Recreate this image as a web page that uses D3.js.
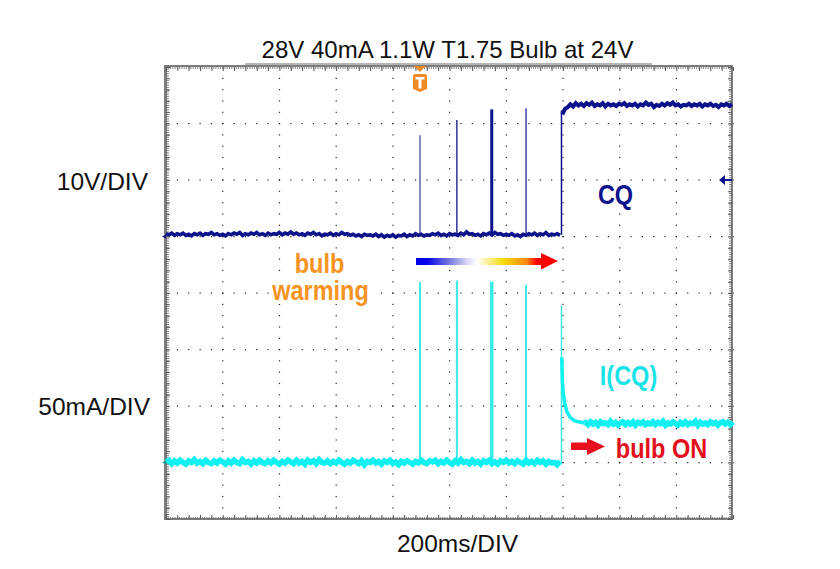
<!DOCTYPE html>
<html>
<head>
<meta charset="utf-8">
<script src="https://cdn.jsdelivr.net/npm/d3@7"></script>
<style>
  html, body { margin: 0; padding: 0; background: #fff; }
  svg { display: block; }
  text { font-family: "Liberation Sans", Arial, sans-serif; }
  .note { font-weight: bold; }
</style>
</head>
<body>
<svg id="chart" width="840" height="569"></svg>
<script>
const width = 840;
const height = 569;

// scope settings
const xDivs = 10;
const yDivs = 8;
const msPerDiv = 200;
const voltsPerDiv = 10;
const mAPerDiv = 50;
const subDivs = 5;

// labels
const titleText = '28V 40mA 1.1W T1.75 Bulb at 24V';
const voltLabel = '10V/DIV';
const currentLabel = '50mA/DIV';
const timeLabel = '200ms/DIV';

// CQ voltage (ms, V)
const sampleMs = 10;
const cqLow = [0.5,0.3,0.6,0.2,0.5,0.3,0.6,0.2,0.4,0.1,0.5,0.3,0.6,0.2,0.5,0.4,0.7,0.3,0.5,0.2,
  0.4,0.1,0.5,0.3,0.6,0.4,0.7,0.2,0.5,0.3,0.6,0.4,0.7,0.3,0.5,0.2,0.6,0.3,0.5,0.4,
  0.7,0.3,0.6,0.4,0.8,0.4,0.6,0.3,0.5,0.2,0.6,0.4,0.7,0.3,0.5,0.1,0.4,0.3,0.6,0.2,
  0.5,0.3,0.7,0.4,0.5,0.2,0.4,0.1,0.3,0.0,0.4,0.2,0.3,0.1,0.4,0.0,0.3,-0.1,0.2,0.0,
  0.3,-0.1,0.2,0.1,0.4,0.0,0.3,0.1,0.5,0.2,0.4,0.1,0.3,0.2,0.5,0.3,0.6,0.2,0.4,0.1,
  0.5,0.3,0.4,0.2,0.6,0.3,0.8,0.4,0.5,0.2,0.4,0.1,0.5,0.3,0.6,0.3,0.7,0.4,0.5,0.2,
  0.4,0.2,0.5,0.1,0.3,0.0,0.4,0.2,0.5,0.3,0.6,0.2,0.5,0.3,0.7,0.2,0.4,0.3,0.5,0.2];
const cqHigh = [21.6,22.6,22.9,23.4,23.0,23.6,23.2,23.5,23.1,23.6,23.3,23.7,23.1,23.4,23.2,23.6,23.0,23.5,
  23.2,23.4,23.1,23.5,23.3,23.6,23.1,23.4,23.2,23.5,23.0,23.4,23.2,23.7,23.3,23.5,22.9,23.3,
  23.1,23.5,23.2,23.6,23.3,23.7,23.2,23.4,23.0,23.3,23.2,23.5,23.1,23.4,23.2,23.5,23.0,23.4,
  23.2,23.5,23.1,23.3,22.9,23.4,23.2,23.5,23.1,23.4];
const cqStepMs = 1395;
const cqHighStartMs = 1398;
const cqHighStepMs = 9.5;

// spikes while the bulb warms up (ms, top value, px of trace weight)
const spikeMs = [896, 1026, 1149, 1270];
const cqSpikeV = [17.9, 20.6, 22.5, 22.7];
const iSpikeMA = [160, 161, 160, 157];
const spikeWeight = [1.5, 1.5, 3, 1.5];
const cqSpikeColor = ['#5d61ab', '#2a2f96', '#0b128a', '#3c41a0'];

// I(CQ) current (ms, mA)
const iLow = [0.5,2,-1,1.5,-0.5,2,0,-1.5,1.5,0,2.5,-0.5,1,-1,2,0,-1,1.5,-0.5,2,
  0.5,-1.5,1.5,-0.5,2,0,-1,2.5,0,1,-1.5,1.5,-0.5,2,0,-1,1.5,-0.5,2,0,
  -1.5,1,-0.5,2,0.5,-1,2,-0.5,1,-1.5,2,0,1.5,-1,2.5,0,-0.5,1.5,-1,1,
  -0.5,2,0,-1.5,1,-0.5,2,0.5,-1,1.5,-2,1,0,2,-0.5,1,-1.5,1.5,0,2,
  -1,0.5,-2,1,-0.5,1.5,0,-1.5,1,-0.5,2,0,-1,1.5,0.5,2,-1,1,-0.5,2,
  0,-1.5,1.5,-0.5,2.5,0,1,-1,2,-0.5,1,-1.5,1.5,0,2,-1,0.5,-1.5,1.5,0,
  2,-0.5,1,-1,1.5,0,-1.5,2,-0.5,1,-1,2,0,1.5,-1.5,1,-0.5,0,-2,1];
const iPeakMA = 139;
const iDecayMs = [1396, 1398, 1401, 1406, 1414, 1425, 1440, 1455, 1475];
const iDecayMA = [93, 73, 62, 53, 45, 40, 37, 36, 35];
const iHigh = [35.5,33.5,36,34,35.5,33,36,34.5,35,33.5,36.5,34,35.5,33,35,36,33.5,35.5,34,36,
  33,35.5,34.5,36,33.5,35,34,36,33.5,35.5,34.5,36.5,33,35,34,36,34.5,33,35.5,34,
  36,33.5,35,34.5,36.5,33,35.5,34,35,33.5,36,34.5,35.5,33,35,36,34,35.5,33.5,36];
const iHighStartMs = 1480;
const iHighStepMs = 8.8;

// scales
const x = d3.scaleLinear().domain([0, xDivs * msPerDiv]).range([166, 733]);
const yDiv = d3.scaleLinear().domain([0, yDivs]).range([67, 519]);
const yV = d3.scaleLinear().domain([0, voltsPerDiv]).range([yDiv(3), yDiv(2)]);
const yI = d3.scaleLinear().domain([0, mAPerDiv]).range([yDiv(7), yDiv(6)]);

const svg = d3.select('#chart');

svg.append('rect').attr('width', width).attr('height', height).attr('fill', '#fff');

// grid of dots
const grid = svg.append('g').attr('fill', '#222');
const xGridMs = d3.range(0, xDivs * subDivs + 1).map(d => d * msPerDiv / subDivs);
const yGridDiv = d3.range(0, yDivs * subDivs + 1).map(d => d / subDivs);
d3.range(1, yDivs).forEach(row => {
  grid.selectAll(null).data(xGridMs).enter().append('rect')
    .attr('x', d => x(d) - 0.5).attr('y', yDiv(row) - 0.5)
    .attr('width', 1.2).attr('height', 1.2);
});
d3.range(1, xDivs).forEach(col => {
  grid.selectAll(null).data(yGridDiv).enter().append('rect')
    .attr('x', x(col * msPerDiv) - 0.5).attr('y', d => yDiv(d) - 0.5)
    .attr('width', 1.2).attr('height', 1.2);
});

// the annotations were pasted on white boxes, which hide some grid dots
const notePatches = [[596, 183, 40, 26], [595, 352, 70, 45], [612, 436, 98, 24], [294, 252, 51, 24], [270, 280, 101, 24]];
svg.selectAll('.patch').data(notePatches).enter().append('rect').attr('class', 'patch')
  .attr('x', d => d[0]).attr('y', d => d[1]).attr('width', d => d[2]).attr('height', d => d[3])
  .attr('fill', '#fff');

// frame
svg.append('line').attr('x1', 245).attr('x2', 652).attr('y1', 64).attr('y2', 64)
  .attr('stroke', '#b5b5b5').attr('stroke-width', 2);
svg.append('rect').attr('x', x(0)).attr('y', yDiv(0) - 1)
  .attr('width', x(xDivs * msPerDiv) - x(0) - 1).attr('height', yDiv(yDivs) - yDiv(0) + 1)
  .attr('fill', 'none').attr('stroke', '#7d7d7d').attr('stroke-width', 2);
svg.append('line').attr('x1', x(0) - 0.5).attr('x2', x(0) - 0.5).attr('y1', yDiv(0) - 2).attr('y2', yDiv(yDivs) + 1)
  .attr('stroke', '#7d7d7d').attr('stroke-width', 3);

// edge ticks
const xEdge = d3.axisTop(x).tickValues(xGridMs).tickSize(-4).tickFormat('');
const xEdgeBottom = d3.axisBottom(x).tickValues(xGridMs).tickSize(-4).tickFormat('');
const yEdge = d3.axisLeft(yDiv).tickValues(yGridDiv).tickSize(-4).tickFormat('');
const yEdgeRight = d3.axisRight(yDiv).tickValues(yGridDiv).tickSize(-4).tickFormat('');
[[xEdge, `translate(0,${yDiv(0)})`], [xEdgeBottom, `translate(0,${yDiv(yDivs)})`],
 [yEdge, `translate(${x(0)},0)`], [yEdgeRight, `translate(${x(xDivs * msPerDiv) - 1},0)`]].forEach(a => {
  const g = svg.append('g').attr('transform', a[1]).call(a[0]);
  g.select('.domain').remove();
  g.selectAll('line').attr('stroke', '#555');
});

// fine ticks on the edges
const fineX = d3.range(0, xDivs * 25 + 1).map(d => d * msPerDiv / 25);
const fineY = d3.range(0, yDivs * 25 + 1).map(d => d / 25);
svg.append('g').selectAll('line').data(fineX).enter().append('line')
  .attr('x1', d => x(d)).attr('x2', d => x(d)).attr('y1', yDiv(yDivs) - 2).attr('y2', yDiv(yDivs))
  .attr('stroke', '#666').attr('stroke-width', 0.8);
svg.append('g').selectAll('line').data(fineX).enter().append('line')
  .attr('x1', d => x(d)).attr('x2', d => x(d)).attr('y1', yDiv(0)).attr('y2', yDiv(0) + 2)
  .attr('stroke', '#666').attr('stroke-width', 0.8);
svg.append('g').selectAll('line').data(fineY).enter().append('line')
  .attr('x1', x(0)).attr('x2', x(0) + 3).attr('y1', d => yDiv(d)).attr('y2', d => yDiv(d))
  .attr('stroke', '#666').attr('stroke-width', 0.8);
svg.append('g').selectAll('line').data(fineY).enter().append('line')
  .attr('x1', x(xDivs * msPerDiv) - 4).attr('x2', x(xDivs * msPerDiv) - 1).attr('y1', d => yDiv(d)).attr('y2', d => yDiv(d))
  .attr('stroke', '#666').attr('stroke-width', 0.8);

// I(CQ) trace
const cyan = '#0ff0f0';
const iLine = d3.line().x(d => x(d[0])).y(d => yI(d[1]));
const iLowPts = iLow.map((d, i) => [i * sampleMs, d]);
const iDecayPts = iDecayMs.map((d, i) => [d, iDecayMA[i]]);
const iHighPts = iHigh.map((d, i) => [iHighStartMs + i * iHighStepMs, d]);

svg.selectAll('.ispike').data(spikeMs).enter().append('line').attr('class', 'ispike')
  .attr('x1', d => x(d)).attr('x2', d => x(d))
  .attr('y1', yI(0)).attr('y2', (d, i) => yI(iSpikeMA[i]))
  .attr('stroke', '#3ce8e8').attr('stroke-width', (d, i) => spikeWeight[i] + 0.5);
svg.append('path').attr('d', iLine(iLowPts)).attr('fill', 'none').attr('stroke', cyan).attr('stroke-width', 5.5);
svg.append('line').attr('x1', x(cqStepMs)).attr('x2', x(cqStepMs)).attr('y1', yI(0)).attr('y2', yI(iPeakMA))
  .attr('stroke', '#3ce8e8').attr('stroke-width', 1.5);
svg.append('path').attr('d', iLine(iDecayPts)).attr('fill', 'none').attr('stroke', cyan).attr('stroke-width', 3.5);
svg.append('path').attr('d', iLine(iDecayPts.slice(-1).concat(iHighPts))).attr('fill', 'none').attr('stroke', cyan).attr('stroke-width', 5.5);

// CQ trace
const navy = '#0b128a';
const vLine = d3.line().x(d => x(d[0])).y(d => yV(d[1]));
const cqLowPts = cqLow.map((d, i) => [i * sampleMs, d]);
const cqHighPts = cqHigh.map((d, i) => [cqHighStartMs + i * cqHighStepMs, d]);
svg.selectAll('.cqspike').data(spikeMs).enter().append('line').attr('class', 'cqspike')
  .attr('x1', d => x(d)).attr('x2', d => x(d))
  .attr('y1', yV(0)).attr('y2', (d, i) => yV(cqSpikeV[i]))
  .attr('stroke', (d, i) => cqSpikeColor[i]).attr('stroke-width', (d, i) => spikeWeight[i]);
svg.append('path').attr('d', vLine(cqLowPts)).attr('fill', 'none').attr('stroke', navy).attr('stroke-width', 3.6);
svg.append('line').attr('x1', x(cqStepMs)).attr('x2', x(cqStepMs)).attr('y1', yV(0.3)).attr('y2', yV(22.3))
  .attr('stroke', navy).attr('stroke-width', 1.5);
svg.append('path').attr('d', vLine(cqHighPts)).attr('fill', 'none').attr('stroke', navy).attr('stroke-width', 4);

// ground markers and the level arrow
svg.append('path').attr('d', `M${x(0) - 4},${yV(0)}l4,-2v4z`).attr('fill', navy);
svg.append('path').attr('d', `M${x(0) - 4},${yI(0)}l4,-2v4z`).attr('fill', '#1a9a9a');
svg.append('path').attr('d', 'M719,180l6,-5v4h7v2h-7v4z').attr('fill', navy);

// trigger marker
const trig = svg.append('g').attr('transform', `translate(${x(spikeMs[0])},0)`);
trig.append('path').attr('d', 'M-6,66h12l-6,6z').attr('fill', '#f08a24');
trig.append('path').attr('d', 'M-7,76q0,-2 2,-2h10q2,0 2,2v13l-7,3l-7,-3z').attr('fill', '#f08a24');
trig.append('path').attr('d', 'M-4.500,77h9v2.500h-3v9h-3v-9h-3z').attr('fill', '#fff');

// gradient arrow
const grad = svg.append('defs').append('linearGradient').attr('id', 'warm');
[[0, '#0000e6'], [0.08, '#0000e6'], [0.26, '#7a7ae0'], [0.4, '#dcdcf8'], [0.47, '#ffffff'], [0.54, '#fdf2a8'], [0.67, '#f7d90a'], [0.85, '#f98a12'], [0.93, '#f00'], [1, '#f00']]
  .forEach(s => grad.append('stop').attr('offset', s[0]).attr('stop-color', s[1]));
svg.append('rect').attr('x', 416).attr('y', 258).attr('width', 130).attr('height', 7).attr('fill', 'url(#warm)');
svg.append('path').attr('d', 'M541,253L558,261L541,269.500z').attr('fill', '#f00');

// small red arrow
svg.append('rect').attr('x', 571).attr('y', 442.500).attr('width', 17).attr('height', 7.500).attr('fill', '#e8101c');
svg.append('path').attr('d', 'M587,438L605,446.500L587,455z').attr('fill', '#e8101c');

// text
svg.append('text').attr('x', 447.500).attr('y', 58).attr('text-anchor', 'middle')
  .attr('font-size', 24).attr('fill', '#111').text(titleText);
svg.append('text').attr('x', 148).attr('y', 190).attr('text-anchor', 'end')
  .attr('font-size', 24.500).attr('fill', '#111').text(voltLabel);
svg.append('text').attr('x', 150).attr('y', 415).attr('text-anchor', 'end')
  .attr('font-size', 24.500).attr('fill', '#111').text(currentLabel);
svg.append('text').attr('x', 457.500).attr('y', 552).attr('text-anchor', 'middle')
  .attr('font-size', 24.500).attr('fill', '#111').text(timeLabel);

// condensed annotations
const notes = [
  ['CQ', 615.500, 204, navy],
  ['I(CQ)', 628.500, 385, '#19e3e6'],
  ['bulb ON', 661.500, 458, '#e3101c'],
  ['bulb', 319.500, 273, '#f7931e'],
  ['warming', 320.500, 300, '#f7931e']
];
svg.selectAll('.note').data(notes).enter().append('text').attr('class', 'note')
  .attr('transform', d => `translate(${d[1]},${d[2]}) scale(0.84,1)`)
  .attr('text-anchor', 'middle')
  .attr('font-size', 28).attr('fill', d => d[3]).text(d => d[0]);
</script>
</body>
</html>
